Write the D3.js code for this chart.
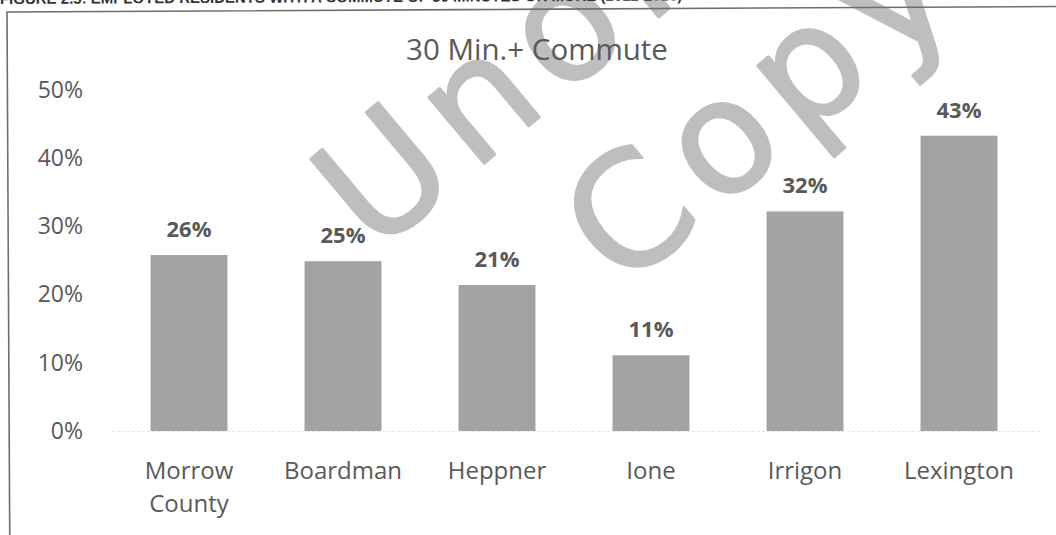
<!DOCTYPE html>
<html>
<head>
<meta charset="utf-8">
<script src="https://cdn.jsdelivr.net/npm/d3@7"></script>
<style>
  html, body { margin: 0; padding: 0; background: #fff; }
  svg { display: block; font-family: "Open Sans", Lato, sans-serif; }
</style>
</head>
<body>
<svg width="1056" height="535"></svg>
<script>

const places = ['Morrow County', 'Boardman', 'Heppner', 'Ione', 'Irrigon', 'Lexington'];
const commuteShare = [25.8, 24.9, 21.4, 11.1, 32.2, 43.3];
const yTicks = [0, 10, 20, 30, 40, 50];
const chartTitle = '30 Min.+ Commute';
const heading = 'FIGURE 2.5: EMPLOYED RESIDENTS WITH A COMMUTE OF 30 MINUTES OR MORE (2012-2016)';
const watermarkLines = ['Unofficial', 'Copy'];

const svg = d3.select('svg');
const width = 1056;

const data = places.map((p, i) => ({ place: p, value: commuteShare[i] }));

const x = d3.scaleBand()
  .domain(places)
  .range([112, 1036])
  .paddingInner(0.5)
  .paddingOuter(0.25);

const y = d3.scaleLinear()
  .domain([0, 50])
  .range([431, 90]);

// scan watermark sits under everything
const wm = svg.append('g')
  .attr('font-family', '"DejaVu Sans", sans-serif')
  .attr('font-size', 158)
  .attr('letter-spacing', 14)
  .attr('fill', '#bebebe')
  .attr('stroke', '#bebebe')
  .attr('stroke-width', 2.5)
  .attr('stroke-linejoin', 'round');

wm.append('text')
  .attr('transform', 'translate(374,256) rotate(-40)')
  .text(watermarkLines[0]);

wm.append('text')
  .attr('transform', 'translate(622,292) rotate(-40)')
  .text(watermarkLines[1]);

// page heading + frame, slightly skewed in the scan
const page = svg.append('g')
  .attr('transform', 'rotate(-0.3, 7, 12)');

page.append('text')
  .attr('x', 0)
  .attr('y', 4)
  .attr('font-family', 'Liberation Sans, Arial, sans-serif')
  .attr('font-weight', 'bold')
  .attr('font-size', 15)
  .attr('fill', '#333')
  .text(heading);

page.append('path')
  .attr('d', `M7,540 V12 H${width + 5}`)
  .attr('fill', 'none')
  .attr('stroke', '#6e6e6e')
  .attr('stroke-width', 1.6);

svg.append('text')
  .attr('x', 537)
  .attr('y', 60)
  .attr('text-anchor', 'middle')
  .attr('font-size', 29.5)
  .attr('fill', '#595959')
  .text(chartTitle);

// y axis, labels only
const yAxis = d3.axisLeft(y)
  .tickValues(yTicks)
  .tickSize(0)
  .tickPadding(0)
  .tickFormat(d => d + '%');

svg.append('g')
  .attr('transform', 'translate(83,0)')
  .call(yAxis)
  .attr('font-family', null)
  .attr('font-size', null)
  .call(g => g.select('.domain').remove())
  .selectAll('text')
    .attr('font-size', 23)
    .attr('fill', '#595959');

// baseline
svg.append('line')
  .attr('x1', 112).attr('x2', 1040)
  .attr('y1', y(0) + 0.5).attr('y2', y(0) + 0.5)
  .attr('stroke', '#e8e8e8')
  .attr('stroke-width', 1)
  .attr('stroke-dasharray', '3,2');

svg.selectAll('.bar')
  .data(data)
  .enter()
  .append('rect')
    .attr('class', 'bar')
    .attr('x', d => x(d.place))
    .attr('width', x.bandwidth())
    .attr('y', d => y(d.value))
    .attr('height', d => y(0) - y(d.value))
    .attr('fill', '#a3a3a3');

svg.selectAll('.value')
  .data(data)
  .enter()
  .append('text')
    .attr('class', 'value')
    .attr('x', d => x(d.place) + x.bandwidth() / 2)
    .attr('y', d => y(d.value) - 18)
    .attr('text-anchor', 'middle')
    .attr('font-size', 22)
    .attr('font-weight', 'bold')
    .attr('fill', '#595959')
    .text(d => Math.round(d.value) + '%');

// category labels, wrapped on spaces
const xLabels = svg.selectAll('.cat')
  .data(places)
  .enter()
  .append('text')
    .attr('class', 'cat')
    .attr('x', d => x(d) + x.bandwidth() / 2)
    .attr('y', 479)
    .attr('text-anchor', 'middle')
    .attr('font-size', 24)
    .attr('fill', '#595959');

xLabels.each(function (d) {
  const t = d3.select(this);
  d.split(' ').forEach((w, i) => {
    t.append('tspan')
      .attr('x', x(d) + x.bandwidth() / 2)
      .attr('dy', i === 0 ? 0 : 33)
      .text(w);
  });
});

</script>
</body>
</html>
